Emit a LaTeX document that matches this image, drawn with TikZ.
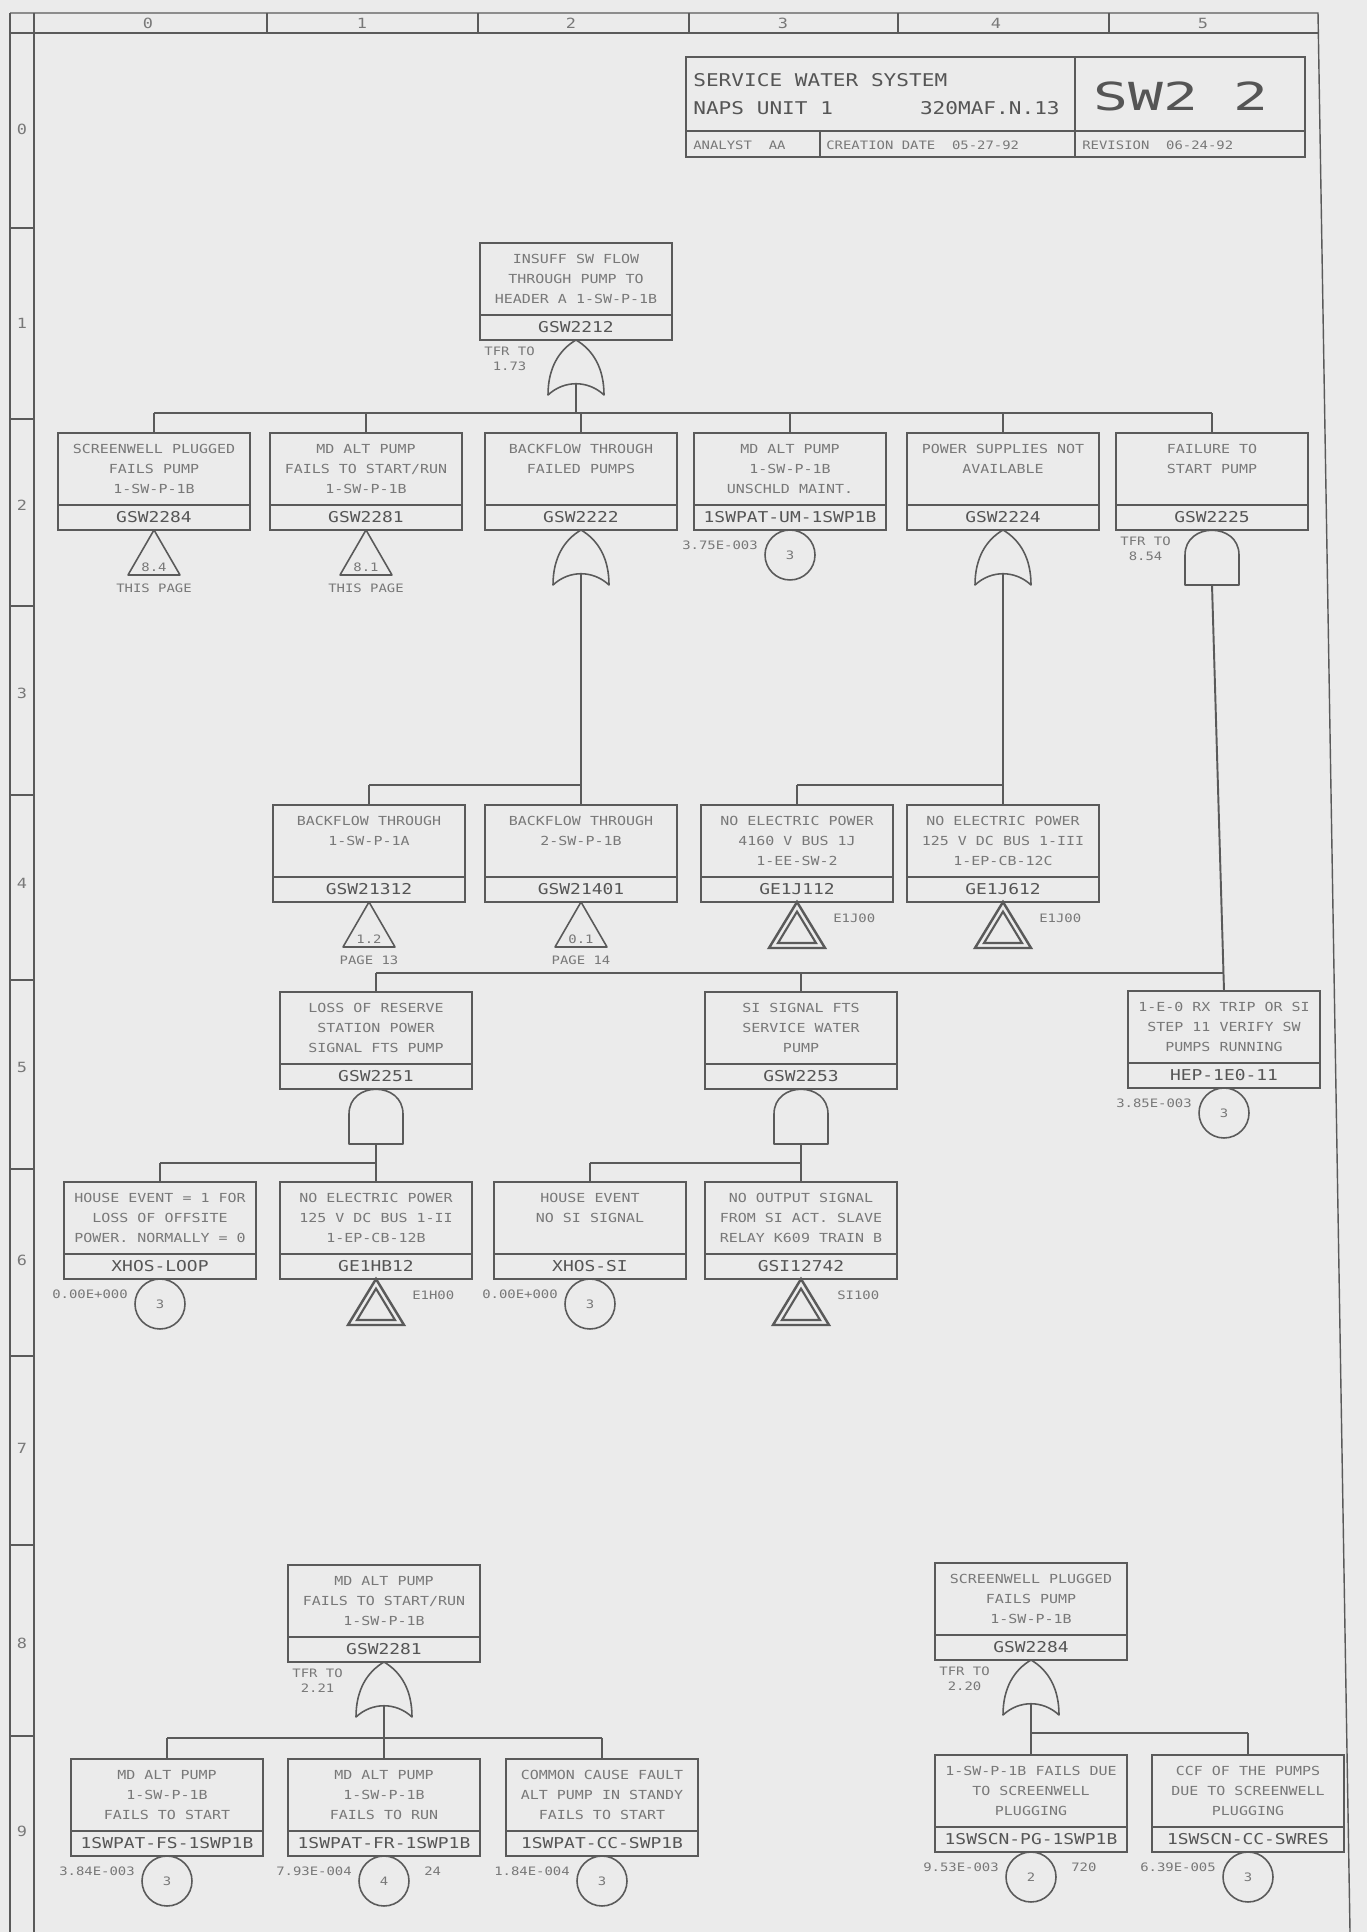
\documentclass[tikz,border=0pt]{standalone}
\usepackage{fontspec}
\usepackage{tikz}
\usetikzlibrary{positioning, calc}
\newfontfamily\plotter[FakeStretch=1.2]{DejaVu Sans Mono}
\newfontfamily\plotterwide[FakeStretch=1.5]{DejaVu Sans Mono}
\definecolor{paper}{HTML}{EBEBEB}
\definecolor{ink}{HTML}{5A5A5A}
\definecolor{inkt}{HTML}{787878}
\definecolor{inkid}{HTML}{555555}
\newcommand\descfont{\plotter\fontsize{7.1pt}{11.3pt}\selectfont}
\newcommand\idfont{\plotter\fontsize{8.5pt}{10pt}\selectfont}
\newcommand\notefont{\plotter\fontsize{6.6pt}{8.5pt}\selectfont}
\newcommand\evbox[5]{%
  \node[desc] (#1) at (#2,#3) {#4};
  \node[evid, below=0pt of #1] (#1-id) {#5};}
\tikzset{
  desc/.style={draw=ink, line width=1.2pt, minimum width=3.84cm, minimum height=1.44cm,
    inner sep=0pt, outer sep=0pt, align=center, font=\descfont, text=inkt},
  evid/.style={draw=ink, line width=1.2pt, minimum width=3.84cm, minimum height=0.5cm,
    inner sep=0pt, outer sep=0pt, font=\idfont, text=inkid},
  basic/.style={circle, draw=ink, line width=0.9pt, minimum size=1cm, inner sep=0pt,
    outer sep=0pt, font=\notefont, text=inkt},
  note/.style={font=\notefont, text=inkt, inner sep=0pt},
  tfr/.style={note, align=center, anchor=north west},
  hdr/.style={font=\plotter\fontsize{8pt}{9pt}\selectfont, text=inkt, inner sep=0pt},
  ttl/.style={font=\plotter\fontsize{10pt}{12pt}\selectfont, text=inkid, inner sep=0pt},
  ttlsmall/.style={font=\plotter\fontsize{6.6pt}{8pt}\selectfont, text=inkt, inner sep=0pt, anchor=west},
  ttlbig/.style={font=\plotterwide\fontsize{22pt}{26pt}\selectfont, text=inkid, inner sep=0pt},
  wire/.style={draw=ink, line width=1.1pt},
  gateline/.style={draw=ink, line width=0.9pt, line join=round},
  frame/.style={draw=ink, line width=0.8pt},
  pics/orgate/.style={code={
    \draw[gateline] (0,0) .. controls (-17,10) and (-28,28) .. (-28,55)
      .. controls (-12,40) and (12,40) .. (28,55)
      .. controls (28,28) and (17,10) .. (0,0) -- cycle;
    \coordinate (-in) at (0,44);}},
  pics/andgate/.style={code={
    \draw[gateline] (-27,55) -- (-27,25) .. controls (-27,-8) and (27,-8) .. (27,25)
      -- (27,55) -- cycle;
    \coordinate (-in) at (0,55);}},
  pics/xfer/.style 2 args={code={
    \draw[gateline] (0,0) -- (-26,45) -- (26,45) -- cycle;
    \node[note] (-ref) at (0,37) {#1};
    \node[note] (-page) at (0,58) {#2};}},
  pics/xferin/.style={code={
    \draw[gateline, line width=1.4pt, line join=miter] (0,0) -- (-28,46) -- (28,46) -- cycle;
    \draw[gateline, line width=1.2pt, line join=miter] (0,9.6) -- (-19,41) -- (19,41) -- cycle;
    \node[note, anchor=west] (-lab) at (36,16) {#1};}},
}

\begin{document}
\begin{tikzpicture}[x=0.02cm, y=-0.02cm]
\useasboundingbox (0,0) rectangle (1367,1932);
\fill[paper] (0,0) rectangle (1367,1932);

% sheet frame and grid
\draw[frame] (10,13) -- (1318,13) -- (1350,1932);
\draw[frame] (10,33) -- (1318,33);
\draw[frame] (10,13) -- (10,1932);
\draw[frame] (34,13) -- (34,1932);
\foreach \x in {267,478,689,898,1109} \draw[frame] (\x,13) -- (\x,33);
\foreach \i/\x in {0/148,1/362,2/571,3/783,4/996,5/1203} \node[hdr] (col\i) at (\x,23) {\i};
\foreach \y in {228,419,606,795,980,1169,1356,1545,1736} \draw[frame] (10,\y) -- (34,\y);
\foreach \i/\y in {0/129,1/323,2/505,3/693,4/883,5/1067,6/1260,7/1448,8/1643,9/1831}
  \node[hdr] (row\i) at (22,\y) {\i};

% title block
\draw[frame, line width=1pt] (686,57) rectangle (1305,157);
\draw[frame, line width=1pt] (686,131) -- (1305,131);
\draw[frame, line width=1pt] (1075,57) -- (1075,157);
\draw[frame, line width=1pt] (820,131) -- (820,157);
\node[ttl, anchor=west] (tsys) at (693,80) {SERVICE WATER SYSTEM};
\node[ttl, anchor=west] (tunit) at (693,108) {NAPS UNIT 1};
\node[ttl, anchor=east] (tcode) at (1060,108) {320MAF.N.13};
\node[ttlbig] (tpage) at (1181,96) {SW2~2};
\node[ttlsmall] (tana) at (693,145) {ANALYST~~AA};
\node[ttlsmall] (tdate) at (826,145) {CREATION DATE~~05-27-92};
\node[ttlsmall] (trev) at (1082,145) {REVISION~~06-24-92};

% top event
\evbox{ins}{576}{279}{INSUFF SW FLOW\\THROUGH PUMP TO\\HEADER A 1-SW-P-1B}{GSW2212}
\pic (insG) at (ins-id.south) {orgate};
\node[tfr] (insT) at ($(ins-id.south west)+(4,7)$) {TFR TO\\1.73};

% row 2
\evbox{scr}{154}{469}{SCREENWELL PLUGGED\\FAILS PUMP\\1-SW-P-1B}{GSW2284}
\evbox{mdp}{366}{469}{MD ALT PUMP\\FAILS TO START/RUN\\1-SW-P-1B}{GSW2281}
\evbox{bkf}{581}{469}{BACKFLOW THROUGH\\FAILED PUMPS\\~}{GSW2222}
\evbox{unm}{790}{469}{MD ALT PUMP\\1-SW-P-1B\\UNSCHLD MAINT.}{1SWPAT-UM-1SWP1B}
\evbox{pws}{1003}{469}{POWER SUPPLIES NOT\\AVAILABLE\\~}{GSW2224}
\evbox{fts}{1212}{469}{FAILURE TO\\START PUMP\\~}{GSW2225}
\coordinate (busA) at (0,413);
\draw[wire] (insG-in) -- (insG-in |- busA);
\draw[wire] (scr.north |- busA) -- (fts.north |- busA);
\foreach \n in {scr,mdp,bkf,unm,pws,fts} \draw[wire] (\n.north) -- (\n.north |- busA);
\pic (scrT) at (scr-id.south) {xfer={8.4}{THIS PAGE}};
\pic (mdpT) at (mdp-id.south) {xfer={8.1}{THIS PAGE}};
\pic (bkfG) at (bkf-id.south) {orgate};
\node[basic, below=0pt of unm-id] (unmB) {3};
\node[note, anchor=east] (unmP) at ($(unmB.west)+(-7,-10)$) {3.75E-003};
\pic (pwsG) at (pws-id.south) {orgate};
\pic (ftsG) at (fts-id.south) {andgate};
\node[tfr] (ftsT) at ($(fts-id.south west)+(4,7)$) {TFR TO\\8.54};

% row 4
\evbox{bka}{369}{841}{BACKFLOW THROUGH\\1-SW-P-1A\\~}{GSW21312}
\evbox{bkb}{581}{841}{BACKFLOW THROUGH\\2-SW-P-1B\\~}{GSW21401}
\evbox{bsj}{797}{841}{NO ELECTRIC POWER\\4160 V BUS 1J\\1-EE-SW-2}{GE1J112}
\evbox{dcc}{1003}{841}{NO ELECTRIC POWER\\125 V DC BUS 1-III\\1-EP-CB-12C}{GE1J612}
\coordinate (busB) at (0,785);
\draw[wire] (bkfG-in) -- (bkfG-in |- busB);
\draw[wire] (bka.north |- busB) -- (bkb.north |- busB);
\draw[wire] (pwsG-in) -- (pwsG-in |- busB);
\draw[wire] (bsj.north |- busB) -- (dcc.north |- busB);
\foreach \n in {bka,bkb,bsj,dcc} \draw[wire] (\n.north) -- (\n.north |- busB);
\pic (bkaT) at (bka-id.south) {xfer={1.2}{PAGE 13}};
\pic (bkbT) at (bkb-id.south) {xfer={0.1}{PAGE 14}};
\pic (bsjT) at (bsj-id.south) {xferin=E1J00};
\pic (dccT) at (dcc-id.south) {xferin=E1J00};

% row 5
\evbox{lrs}{376}{1028}{LOSS OF RESERVE\\STATION POWER\\SIGNAL FTS PUMP}{GSW2251}
\evbox{sis}{801}{1028}{SI SIGNAL FTS\\SERVICE WATER\\PUMP}{GSW2253}
\evbox{hep}{1224}{1027}{1-E-0 RX TRIP OR SI\\STEP 11 VERIFY SW\\PUMPS RUNNING}{HEP-1E0-11}
\coordinate (busC) at (0,973);
\draw[wire] (ftsG-in) -- (hep.north);
\draw[wire] (lrs.north |- busC) -- (hep.north |- busC);
\foreach \n in {lrs,sis} \draw[wire] (\n.north) -- (\n.north |- busC);
\pic (lrsG) at (lrs-id.south) {andgate};
\pic (sisG) at (sis-id.south) {andgate};
\node[basic, below=0pt of hep-id] (hepB) {3};
\node[note, anchor=east] (hepP) at ($(hepB.west)+(-7,-10)$) {3.85E-003};

% row 6
\evbox{lop}{160}{1218}{HOUSE EVENT = 1 FOR\\LOSS OF OFFSITE\\POWER. NORMALLY = 0}{XHOS-LOOP}
\evbox{dcb}{376}{1218}{NO ELECTRIC POWER\\125 V DC BUS 1-II\\1-EP-CB-12B}{GE1HB12}
\evbox{xsi}{590}{1218}{HOUSE EVENT\\NO SI SIGNAL\\~}{XHOS-SI}
\evbox{slv}{801}{1218}{NO OUTPUT SIGNAL\\FROM SI ACT. SLAVE\\RELAY K609 TRAIN B}{GSI12742}
\coordinate (busD) at (0,1163);
\draw[wire] (lrsG-in) -- (lrsG-in |- busD);
\draw[wire] (lop.north |- busD) -- (dcb.north |- busD);
\draw[wire] (sisG-in) -- (sisG-in |- busD);
\draw[wire] (xsi.north |- busD) -- (slv.north |- busD);
\foreach \n in {lop,dcb,xsi,slv} \draw[wire] (\n.north) -- (\n.north |- busD);
\node[basic, below=0pt of lop-id] (lopB) {3};
\node[note, anchor=east] (lopP) at ($(lopB.west)+(-7,-10)$) {0.00E+000};
\pic (dcbT) at (dcb-id.south) {xferin=E1H00};
\node[basic, below=0pt of xsi-id] (xsiB) {3};
\node[note, anchor=east] (xsiP) at ($(xsiB.west)+(-7,-10)$) {0.00E+000};
\pic (slvT) at (slv-id.south) {xferin=SI100};

% transfer GSW2281
\evbox{mda}{384}{1601}{MD ALT PUMP\\FAILS TO START/RUN\\1-SW-P-1B}{GSW2281}
\pic (mdaG) at (mda-id.south) {orgate};
\node[tfr] (mdaT) at ($(mda-id.south west)+(4,7)$) {TFR TO\\2.21};
\evbox{fsp}{167}{1795}{MD ALT PUMP\\1-SW-P-1B\\FAILS TO START}{1SWPAT-FS-1SWP1B}
\evbox{frp}{384}{1795}{MD ALT PUMP\\1-SW-P-1B\\FAILS TO RUN}{1SWPAT-FR-1SWP1B}
\evbox{ccp}{602}{1795}{COMMON CAUSE FAULT\\ALT PUMP IN STANDY\\FAILS TO START}{1SWPAT-CC-SWP1B}
\coordinate (busE) at (0,1738);
\draw[wire] (mdaG-in) -- (mdaG-in |- busE);
\draw[wire] (fsp.north |- busE) -- (ccp.north |- busE);
\foreach \n in {fsp,frp,ccp} \draw[wire] (\n.north) -- (\n.north |- busE);
\node[basic, below=0pt of fsp-id] (fspB) {3};
\node[note, anchor=east] (fspP) at ($(fspB.west)+(-7,-10)$) {3.84E-003};
\node[basic, below=0pt of frp-id] (frpB) {4};
\node[note, anchor=east] (frpP) at ($(frpB.west)+(-7,-10)$) {7.93E-004};
\node[note, anchor=west] (frpM) at ($(frpB.east)+(15,-10)$) {24};
\node[basic, below=0pt of ccp-id] (ccpB) {3};
\node[note, anchor=east] (ccpP) at ($(ccpB.west)+(-7,-10)$) {1.84E-004};

% transfer GSW2284
\evbox{scp}{1031}{1599}{SCREENWELL PLUGGED\\FAILS PUMP\\1-SW-P-1B}{GSW2284}
\pic (scpG) at (scp-id.south) {orgate};
\node[tfr] (scpT) at ($(scp-id.south west)+(4,7)$) {TFR TO\\2.20};
\evbox{plg}{1031}{1791}{1-SW-P-1B FAILS DUE\\TO SCREENWELL\\PLUGGING}{1SWSCN-PG-1SWP1B}
\evbox{ccf}{1248}{1791}{CCF OF THE PUMPS\\DUE TO SCREENWELL\\PLUGGING}{1SWSCN-CC-SWRES}
\coordinate (busF) at (0,1733);
\draw[wire] (scpG-in) -- (scpG-in |- busF);
\draw[wire] (plg.north |- busF) -- (ccf.north |- busF);
\foreach \n in {plg,ccf} \draw[wire] (\n.north) -- (\n.north |- busF);
\node[basic, below=0pt of plg-id] (plgB) {2};
\node[note, anchor=east] (plgP) at ($(plgB.west)+(-7,-10)$) {9.53E-003};
\node[note, anchor=west] (plgM) at ($(plgB.east)+(15,-10)$) {720};
\node[basic, below=0pt of ccf-id] (ccfB) {3};
\node[note, anchor=east] (ccfP) at ($(ccfB.west)+(-7,-10)$) {6.39E-005};
\end{tikzpicture}
\end{document}
